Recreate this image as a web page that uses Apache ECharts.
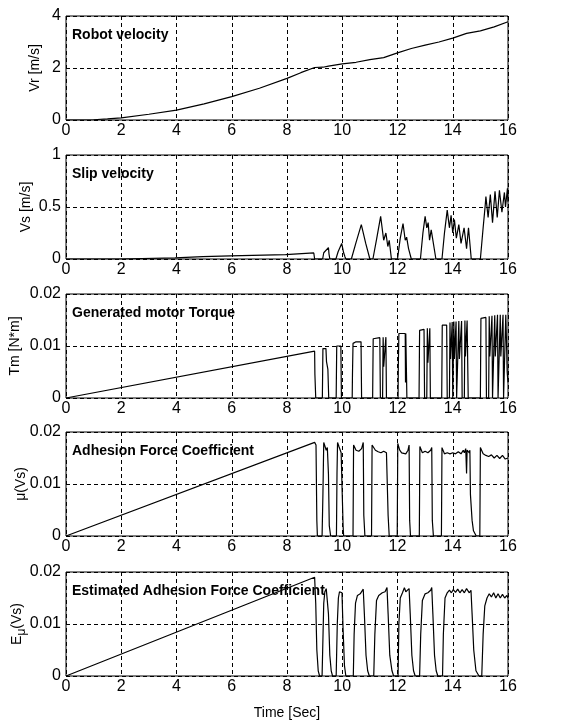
<!DOCTYPE html>
<html>
<head>
<meta charset="utf-8">
<script src="https://cdn.jsdelivr.net/npm/echarts@6/dist/echarts.min.js"></script>
<style>html,body{margin:0;padding:0;background:#fff}#c{width:571px;height:720px}</style>
</head>
<body>
<div id="c"></div>
<script>
// ---- data ----
var xTickMax = 16, xTickStep = 2;
var panelTitles = ['Robot velocity', 'Slip velocity', 'Generated motor Torque', 'Adhesion Force Coefficient', 'Estimated Adhesion Force Coefficient'];
var yMax = [4, 1, 0.02, 0.02, 0.02];
var yStep = [2, 0.5, 0.01, 0.01, 0.01];

var velT = [0, 1, 1.5, 2, 3, 4, 5, 6, 7, 8, 8.5, 9, 9.3, 9.5, 10, 10.5, 11, 11.5, 12, 12.5, 13, 13.5, 14, 14.5, 15, 15.5, 16];
var velV = [0, 0.01, 0.04, 0.08, 0.22, 0.38, 0.62, 0.9, 1.22, 1.6, 1.82, 2.02, 2.03, 2.07, 2.16, 2.22, 2.32, 2.4, 2.58, 2.75, 2.88, 3.0, 3.15, 3.33, 3.43, 3.58, 3.78];

var slipT = [0, 1.95, 2, 3.95, 4, 4.95, 5, 5.95, 6, 7.95, 8, 8.97, 8.99, 9.0, 9.29, 9.33, 9.4, 9.5, 9.52, 9.55, 9.77, 9.85, 9.98, 10.05, 10.1, 10.13, 10.33, 10.5, 10.69, 10.85, 11.0, 11.11, 11.25, 11.39, 11.5, 11.58, 11.65, 11.7, 11.78, 12.0, 12.1, 12.2, 12.28, 12.33, 12.4, 12.5, 12.83, 12.92, 13.0, 13.06, 13.11, 13.16, 13.22, 13.39, 13.61, 13.7, 13.8, 13.88, 13.94, 14.0, 14.06, 14.13, 14.22, 14.3, 14.41, 14.5, 14.57, 14.67, 15.0, 15.1, 15.17, 15.2, 15.28, 15.36, 15.44, 15.53, 15.61, 15.69, 15.78, 15.87, 15.91, 15.98, 16];
var slipV = [0, 0, 0.01, 0.01, 0.022, 0.022, 0.03, 0.03, 0.042, 0.042, 0.055, 0.058, 0.062, 0, 0, 0.06, 0.07, 0.11, 0.05, 0, 0, 0.07, 0.15, 0.06, 0.02, 0, 0, 0.16, 0.33, 0.15, 0, 0, 0.2, 0.41, 0.18, 0.25, 0.12, 0.18, 0, 0, 0.2, 0.34, 0.18, 0.21, 0.1, 0, 0, 0.25, 0.41, 0.3, 0.35, 0.18, 0.28, 0, 0, 0.25, 0.47, 0.3, 0.42, 0.25, 0.38, 0.2, 0.33, 0.15, 0.3, 0.1, 0.3, 0, 0, 0.3, 0.5, 0.6, 0.4, 0.62, 0.35, 0.65, 0.4, 0.66, 0.45, 0.64, 0.5, 0.68, 0.55];

var torqueT = [0, 9.0, 9.01, 9.03, 9.04, 9.28, 9.30, 9.41, 9.43, 9.48, 9.51, 9.78, 9.80, 9.95, 9.97, 10.36, 10.37, 10.39, 10.5, 10.68, 10.7, 11.1, 11.12, 11.36, 11.38, 11.46, 11.48, 11.5, 11.56, 11.58, 11.6, 12.02, 12.03, 12.05, 12.28, 12.29, 12.3, 12.32, 12.34, 12.78, 12.8, 12.96, 12.98, 13.06, 13.08, 13.1, 13.15, 13.17, 13.19, 13.6, 13.62, 13.78, 13.8, 13.88, 13.9, 13.92, 13.96, 13.98, 14.0, 14.04, 14.06, 14.1, 14.12, 14.14, 14.2, 14.22, 14.24, 14.3, 14.32, 14.34, 14.42, 14.44, 14.46, 14.5, 14.52, 14.54, 14.56, 15.0, 15.02, 15.2, 15.22, 15.3, 15.32, 15.34, 15.4, 15.42, 15.44, 15.5, 15.52, 15.54, 15.6, 15.62, 15.64, 15.7, 15.72, 15.74, 15.8, 15.82, 15.84, 15.9, 15.92, 15.94, 15.97, 16];
var torqueV = [0, 0.009, 0.0045, 0.0043, 0, 0, 0.0095, 0.0095, 0.007, 0.0055, 0, 0, 0.01, 0.01, 0, 0, 0.0045, 0.0105, 0.0108, 0.0108, 0, 0, 0.0114, 0.0116, 0, 0, 0.0117, 0.006, 0.006, 0.0117, 0, 0, 0.0062, 0.0124, 0.0124, 0.003, 0.0124, 0.0124, 0, 0, 0.013, 0.0132, 0, 0, 0.0134, 0.0068, 0.0068, 0.0134, 0, 0, 0.014, 0.014, 0, 0, 0.0145, 0.0075, 0.0075, 0.0146, 0, 0.0147, 0.0075, 0.0075, 0.0147, 0, 0, 0.0148, 0.0075, 0.0075, 0.0148, 0, 0, 0.0149, 0.008, 0.008, 0.0149, 0.0149, 0, 0, 0.0153, 0.0155, 0, 0, 0.0157, 0.008, 0.008, 0.0158, 0, 0, 0.0159, 0.008, 0.008, 0.016, 0, 0, 0.016, 0.008, 0.008, 0.016, 0, 0, 0.016, 0.012, 0.005, 0.003];

var muT = [0, 9.0, 9.05, 9.08, 9.1, 9.27, 9.3, 9.33, 9.38, 9.42, 9.46, 9.5, 9.53, 9.58, 9.79, 9.81, 9.83, 9.88, 9.92, 9.96, 10.0, 10.03, 10.05, 10.39, 10.41, 10.5, 10.6, 10.7, 10.76, 10.78, 10.82, 11.06, 11.08, 11.13, 11.2, 11.3, 11.4, 11.5, 11.6, 11.64, 11.66, 11.7, 11.99, 12.01, 12.08, 12.15, 12.22, 12.3, 12.38, 12.42, 12.44, 12.47, 12.79, 12.81, 12.9, 13.0, 13.1, 13.2, 13.24, 13.26, 13.3, 13.59, 13.61, 13.7, 13.8, 13.9, 14.0, 14.1, 14.2, 14.3, 14.38, 14.42, 14.47, 14.5, 14.52, 14.6, 14.62, 14.64, 14.7, 14.75, 14.85, 14.98, 15.0, 15.1, 15.2, 15.3, 15.4, 15.5, 15.6, 15.7, 15.8, 15.9, 16];
var muV = [0, 0.018, 0.0175, 0.003, 0, 0, 0.008, 0.018, 0.0178, 0.0165, 0.017, 0.012, 0.002, 0, 0, 0.012, 0.018, 0.0172, 0.0175, 0.016, 0.008, 0.002, 0, 0, 0.0175, 0.0165, 0.0163, 0.0168, 0.018, 0.004, 0, 0, 0.0175, 0.0172, 0.0165, 0.0162, 0.016, 0.0163, 0.016, 0.016, 0.004, 0, 0, 0.0178, 0.0165, 0.016, 0.0163, 0.0158, 0.0165, 0.0175, 0.003, 0, 0, 0.0172, 0.016, 0.0163, 0.016, 0.0165, 0.017, 0.003, 0, 0, 0.017, 0.0158, 0.016, 0.0158, 0.016, 0.0158, 0.0162, 0.0158, 0.0165, 0.016, 0.0168, 0.012, 0.0165, 0.016, 0.0165, 0.008, 0.003, 0.001, 0, 0, 0.017, 0.0158, 0.0155, 0.0153, 0.0156, 0.015, 0.0155, 0.0149, 0.0155, 0.0148, 0.015];

var emuT = [0, 9.0, 9.04, 9.08, 9.13, 9.18, 9.27, 9.3, 9.33, 9.37, 9.42, 9.47, 9.5, 9.55, 9.6, 9.65, 9.78, 9.82, 9.86, 9.9, 9.95, 9.99, 10.03, 10.08, 10.13, 10.4, 10.43, 10.48, 10.55, 10.65, 10.72, 10.76, 10.8, 10.86, 10.92, 10.98, 11.14, 11.18, 11.24, 11.32, 11.45, 11.55, 11.62, 11.66, 11.72, 11.8, 11.86, 12.02, 12.05, 12.1, 12.18, 12.25, 12.3, 12.36, 12.42, 12.46, 12.52, 12.58, 12.64, 12.8, 12.84, 12.9, 13.0, 13.1, 13.2, 13.24, 13.28, 13.34, 13.4, 13.46, 13.63, 13.66, 13.72, 13.8, 13.88, 13.95, 14.02, 14.1, 14.18, 14.26, 14.34, 14.42, 14.5, 14.6, 14.66, 14.7, 14.76, 14.84, 14.95, 15.05, 15.1, 15.16, 15.24, 15.32, 15.4, 15.48, 15.56, 15.64, 15.72, 15.8, 15.88, 15.96, 16];
var emuV = [0, 0.019, 0.014, 0.005, 0.001, 0, 0, 0.007, 0.014, 0.0162, 0.0168, 0.017, 0.012, 0.004, 0.001, 0, 0, 0.01, 0.015, 0.0162, 0.0165, 0.016, 0.009, 0.002, 0, 0, 0.008, 0.014, 0.0155, 0.0158, 0.016, 0.0167, 0.012, 0.004, 0.001, 0, 0, 0.008, 0.0145, 0.0155, 0.016, 0.0162, 0.017, 0.012, 0.004, 0.001, 0, 0, 0.01, 0.015, 0.016, 0.017, 0.0162, 0.0165, 0.0168, 0.012, 0.004, 0.001, 0, 0, 0.008, 0.0145, 0.0158, 0.016, 0.0165, 0.017, 0.012, 0.004, 0.001, 0, 0, 0.008, 0.015, 0.016, 0.0165, 0.016, 0.0166, 0.0161, 0.0167, 0.016, 0.0166, 0.016, 0.0168, 0.016, 0.0165, 0.012, 0.005, 0.001, 0, 0, 0.008, 0.0135, 0.015, 0.0158, 0.0152, 0.016, 0.015, 0.0158, 0.015, 0.0157, 0.015, 0.0155, 0.015];

// ---- chart construction ----
function zip(t, v) { return t.map(function (x, i) { return [x, v[i]]; }); }
var seriesData = [zip(velT, velV), zip(slipT, slipV), zip(torqueT, torqueV), zip(muT, muV), zip(emuT, emuV)];
var yNames = ['Vr [m/s]', 'Vs [m/s]', 'Tm [N*m]', 'μ(Vs)', '{a|E}{s|μ}{a|(Vs)}'];
var nameGaps = [24, 33, 44, 38, 42];
var tops = [16, 155, 294, 432, 572];
var H = 104;
var FONT = 'Liberation Sans, Arial, sans-serif';

var grids = [], xAxes = [], yAxes = [], series = [], titles = [];
for (var i = 0; i < 5; i++) {
  grids.push({ left: 66, right: 63, top: tops[i], height: H, show: true, borderColor: '#000', borderWidth: 1,
    backgroundColor: 'transparent', containLabel: false, outerBoundsMode: 'none' });
  xAxes.push({
    gridIndex: i, type: 'value', min: 0, max: xTickMax, interval: xTickStep,
    axisLine: { show: false }, axisTick: { show: false },
    axisLabel: { color: '#000', fontSize: 16, fontFamily: FONT, margin: 3 },
    splitLine: { show: true, lineStyle: { color: '#000', type: [4, 3], width: 1 } },
    name: i === 4 ? 'Time [Sec]' : '', nameLocation: 'middle', nameGap: 30, nameMoveOverlap: false,
    nameTextStyle: { color: '#000', fontSize: 14, fontFamily: FONT }
  });
  yAxes.push({
    gridIndex: i, type: 'value', min: 0, max: yMax[i], interval: yStep[i],
    axisLine: { show: false }, axisTick: { show: false },
    axisLabel: { color: '#000', fontSize: 16, fontFamily: FONT, margin: 5 },
    splitLine: { show: true, lineStyle: { color: '#000', type: [4, 3], width: 1 } },
    name: yNames[i], nameLocation: 'middle', nameGap: nameGaps[i], nameRotate: 90, nameMoveOverlap: false,
    nameTextStyle: {
      color: '#000', fontSize: 14, fontFamily: FONT,
      rich: { a: { fontSize: 14, fontFamily: FONT, color: '#000' }, s: { fontSize: 12, fontFamily: FONT, color: '#000', verticalAlign: 'bottom', padding: [0, 0, -4, 0] } }
    }
  });
  series.push({
    type: 'line', xAxisIndex: i, yAxisIndex: i, data: seriesData[i], showSymbol: false, symbol: 'none',
    lineStyle: { color: '#000', width: 1.2 }, animation: false, z: 3
  });
  titles.push({ text: panelTitles[i], left: 72, top: tops[i] + 12, padding: 0,
    textStyle: { fontSize: 14, fontWeight: 'bold', color: '#000', fontFamily: FONT } });
}

var chart = echarts.init(document.getElementById('c'), null, { renderer: 'canvas' });
chart.setOption({
  backgroundColor: '#fff', animation: false,
  title: titles, grid: grids, xAxis: xAxes, yAxis: yAxes, series: series
});
</script>
</body>
</html>
